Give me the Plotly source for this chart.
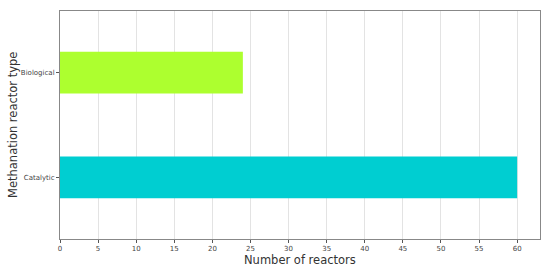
import plotly.graph_objects as go

categories = ["Catalytic", "Biological"]
values = [60, 24]
colors = ["#00CED1", "#ADFF2F"]
x_ticks = list(range(0, 61, 5))

fig = go.Figure(go.Bar(
    y=categories, x=values, orientation="h", width=0.4,
    marker=dict(color=colors, line=dict(width=0)),
))
fig.update_layout(
    width=550, height=271,
    margin=dict(l=60, r=10, t=11, b=32),
    plot_bgcolor="white", paper_bgcolor="white",
    showlegend=False,
    font=dict(family="DejaVu Sans", color="#333333"),
    annotations=[
        dict(text="Number of reactors", xref="paper", yref="paper", x=0.5, y=0,
             yshift=-21, xanchor="center", yanchor="middle", showarrow=False,
             font=dict(size=11.5, color="#333")),
        dict(text="Methanation reactor type", xref="paper", yref="paper", x=0, y=0.5,
             xshift=-47, textangle=-90, xanchor="center", yanchor="middle", showarrow=False,
             font=dict(size=11.5, color="#333")),
    ],
)
fig.update_xaxes(
    range=[0, 63], tickvals=x_ticks, ticks="outside", ticklen=3, tickcolor="#555",
    tickfont=dict(size=7, color="#444"), automargin=False,
    showgrid=True, gridcolor="#e3e3e3", gridwidth=1,
    showline=True, linecolor="#888", linewidth=1, mirror=True, zeroline=False,
)
fig.update_yaxes(
    type="category", range=[-0.59, 1.59], ticks="outside", ticklen=3, tickcolor="#555",
    tickfont=dict(size=7, color="#444"), automargin=False,
    showgrid=False,
    showline=True, linecolor="#888", linewidth=1, mirror=True,
)
fig.write_html("out.html", config={"displayModeBar": False},
               post_script="document.body.style.margin='0';document.body.style.overflow='hidden';")
